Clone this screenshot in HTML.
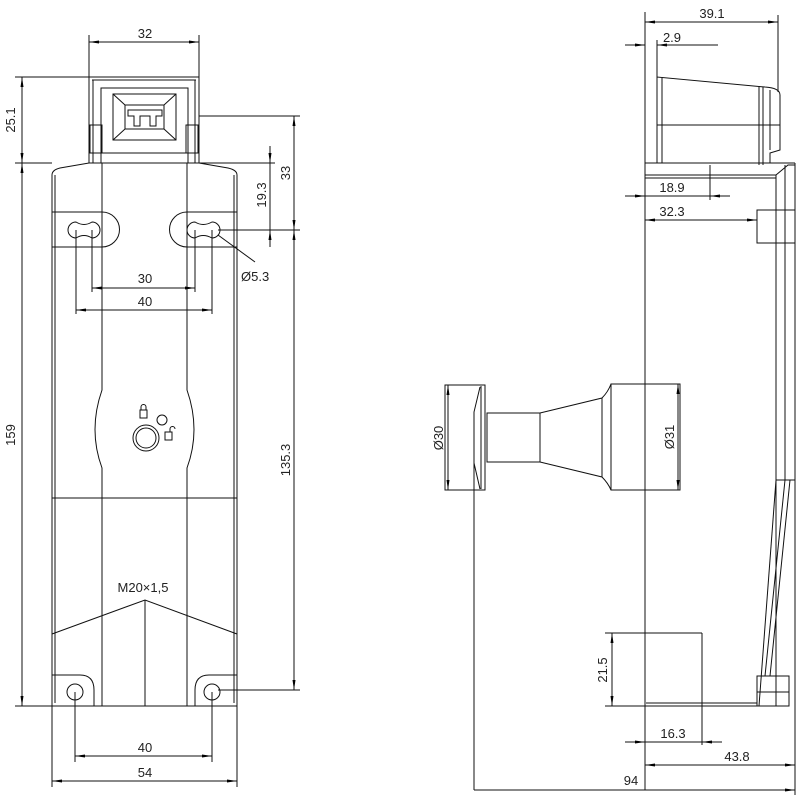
<!DOCTYPE html>
<html><head><meta charset="utf-8"><style>
html,body{margin:0;padding:0;background:#fff}
svg{display:block}
text{font-family:"Liberation Sans",sans-serif;font-size:13px;fill:#222}
</style></head><body>
<svg width="800" height="800" viewBox="0 0 800 800" xmlns="http://www.w3.org/2000/svg">
<defs>
<marker id="a" markerWidth="10" markerHeight="6" refX="10" refY="3" orient="auto-start-reverse" markerUnits="userSpaceOnUse"><path d="M0,1.5 L10,3 L0,4.5z" fill="#000"/></marker>
</defs>
<g stroke="#111" stroke-width="1" fill="none">
<!-- LEFT VIEW -->
<!-- head -->
<rect x="89" y="77" width="110" height="86"/>
<line x1="92" y1="80" x2="196" y2="80"/>
<line x1="93" y1="80" x2="93" y2="163"/><line x1="195" y1="80" x2="195" y2="163"/>
<rect x="101" y="88" width="87" height="65"/>
<line x1="101" y1="153" x2="101" y2="163"/><line x1="188" y1="153" x2="188" y2="163"/>
<rect x="113" y="94" width="63" height="46"/>
<line x1="113" y1="94" x2="125" y2="105"/><line x1="176" y1="94" x2="164" y2="105"/>
<line x1="113" y1="140" x2="125" y2="129"/><line x1="176" y1="140" x2="164" y2="129"/>
<rect x="125" y="105" width="39" height="24"/>
<path d="M128,110 H162 V116 H156 V126 H150 V116 H140 V126 H134 V116 H128Z"/>
<rect x="90" y="125" width="12" height="28"/><rect x="186" y="125" width="12" height="28"/>
<!-- body -->
<path d="M52,706 V175 Q52,170 60,168 L89,163 H199 L228,168 Q237,170 237,175 V706 Z"/>
<line x1="55" y1="175" x2="55" y2="703"/><line x1="234" y1="175" x2="234" y2="703"/>
<path d="M102,163 V390 Q88,430 102,468 V706"/>
<path d="M187,163 V390 Q201,430 187,468 V706"/>
<line x1="52" y1="498" x2="237" y2="498"/>
<!-- ear lugs -->
<line x1="52" y1="212" x2="102" y2="212"/><line x1="52" y1="247" x2="102" y2="247"/>
<path d="M102,212 A17.5,17.5 0 0 1 102,247"/>
<line x1="187" y1="212" x2="237" y2="212"/><line x1="187" y1="247" x2="237" y2="247"/>
<path d="M187,212 A17.5,17.5 0 0 0 187,247"/>
<path d="M76,222 A8,8 0 0 0 76,238 Q84,233 92,238 A8,8 0 0 0 92,222 Q84,227 76,222Z"/>
<path d="M195,222 A8,8 0 0 0 195,238 Q203,233 212,238 A8,8 0 0 0 212,222 Q203,227 195,222Z"/>
<!-- symbol -->
<circle cx="146" cy="438" r="13"/><circle cx="146" cy="438" r="10"/>
<circle cx="162" cy="420" r="5"/>
<rect x="140" y="410" width="7" height="8"/><path d="M141,410 V407 A2.5,2.5 0 0 1 146,407 V410"/>
<rect x="165" y="432" width="7" height="8"/><path d="M170,432 V429 A2.5,2.5 0 0 1 175,429"/>
<!-- chevron -->
<polyline points="52,634 145,600 237,634"/>
<line x1="145" y1="600" x2="145" y2="706"/>
<!-- bottom lugs -->
<path d="M52,675 H80 Q94,675 94,690 V706"/>
<path d="M237,675 H209 Q195,675 195,690 V706"/>
<circle cx="75" cy="692" r="8"/><circle cx="212" cy="692" r="8"/>
<!-- left dims -->
<line x1="89" y1="35" x2="89" y2="77"/><line x1="199" y1="35" x2="199" y2="77"/>
<line x1="89" y1="42" x2="199" y2="42" marker-start="url(#a)" marker-end="url(#a)"/>
<line x1="15" y1="77" x2="89" y2="77"/><line x1="15" y1="163" x2="52" y2="163"/><line x1="15" y1="706" x2="52" y2="706"/>
<line x1="22" y1="77" x2="22" y2="163" marker-start="url(#a)" marker-end="url(#a)"/>
<line x1="22" y1="163" x2="22" y2="706" marker-start="url(#a)" marker-end="url(#a)"/>
<line x1="199" y1="116" x2="300" y2="116"/><line x1="218" y1="230" x2="300" y2="230"/>
<line x1="199" y1="163" x2="275" y2="163"/>
<line x1="294" y1="116" x2="294" y2="230" marker-start="url(#a)" marker-end="url(#a)"/>
<line x1="294" y1="230" x2="294" y2="690" marker-start="url(#a)" marker-end="url(#a)"/>
<line x1="270" y1="146" x2="270" y2="163" marker-end="url(#a)"/>
<line x1="270" y1="247" x2="270" y2="230" marker-end="url(#a)"/>
<line x1="270" y1="163" x2="270" y2="230"/>
<line x1="218" y1="690" x2="300" y2="690"/>
<line x1="218" y1="235" x2="255" y2="262"/>
<line x1="92" y1="230" x2="92" y2="292"/><line x1="195" y1="230" x2="195" y2="292"/>
<line x1="92" y1="288" x2="195" y2="288" marker-start="url(#a)" marker-end="url(#a)"/>
<line x1="76" y1="230" x2="76" y2="314"/><line x1="212" y1="230" x2="212" y2="314"/>
<line x1="76" y1="310" x2="212" y2="310" marker-start="url(#a)" marker-end="url(#a)"/>
<line x1="75" y1="692" x2="75" y2="762"/><line x1="212" y1="692" x2="212" y2="762"/>
<line x1="75" y1="756" x2="212" y2="756" marker-start="url(#a)" marker-end="url(#a)"/>
<line x1="52" y1="706" x2="52" y2="787"/><line x1="237" y1="706" x2="237" y2="787"/>
<line x1="52" y1="781" x2="237" y2="781" marker-start="url(#a)" marker-end="url(#a)"/>

<!-- RIGHT VIEW -->
<line x1="645" y1="12" x2="645" y2="790"/>
<path d="M657,163 V77 L765,87 Q780,88 780,95 V150 L770,153 V163"/>
<line x1="662" y1="78" x2="662" y2="163"/>
<line x1="657" y1="125" x2="780" y2="125"/>
<line x1="759" y1="86" x2="759" y2="165"/><line x1="763" y1="87" x2="763" y2="165"/>
<line x1="770" y1="90" x2="770" y2="150"/>
<path d="M645,163 H776 L795,163"/>
<line x1="645" y1="175" x2="776" y2="175"/><line x1="645" y1="178" x2="776" y2="178"/>
<path d="M776,706 V175 L788,165 H795"/>
<line x1="785" y1="165" x2="785" y2="480"/><line x1="795" y1="163" x2="795" y2="680"/>
<line x1="776" y1="480" x2="795" y2="480"/>
<path d="M776,480 L759,706"/><path d="M785,480 L765,676"/><path d="M790,480 L770,676"/>
<rect x="757" y="210" width="38" height="33"/>
<rect x="757" y="676" width="32" height="30"/><line x1="757" y1="692" x2="789" y2="692"/>
<line x1="645" y1="706" x2="757" y2="706"/><line x1="646" y1="703" x2="757" y2="703"/>
<!-- actuator -->
<rect x="445" y="385" width="40" height="105"/>
<line x1="481" y1="386" x2="481" y2="489"/>
<path d="M480,387 L474,412 V463 L480,489"/>
<rect x="487" y="413" width="53" height="49"/>
<path d="M540,413 L602,398 Q608,392 611,384"/><path d="M540,462 L602,477 Q608,483 611,490"/>
<line x1="540" y1="413" x2="540" y2="462"/><line x1="602" y1="398" x2="602" y2="477"/>
<rect x="611" y="384" width="69" height="106"/>
<line x1="474" y1="463" x2="474" y2="790"/>
<line x1="448" y1="385" x2="448" y2="490" marker-start="url(#a)" marker-end="url(#a)"/>
<line x1="678" y1="384" x2="678" y2="490" marker-start="url(#a)" marker-end="url(#a)"/>
<!-- right dims -->
<line x1="778" y1="15" x2="778" y2="92"/><line x1="657" y1="40" x2="657" y2="77"/>
<line x1="645" y1="22" x2="778" y2="22" marker-start="url(#a)" marker-end="url(#a)"/>
<line x1="625" y1="45" x2="645" y2="45" marker-end="url(#a)"/>
<line x1="677" y1="45" x2="657" y2="45" marker-end="url(#a)"/><line x1="657" y1="45" x2="718" y2="45"/>
<line x1="710" y1="165" x2="710" y2="200"/>
<line x1="625" y1="196" x2="645" y2="196" marker-end="url(#a)"/>
<line x1="730" y1="196" x2="710" y2="196" marker-end="url(#a)"/><line x1="645" y1="196" x2="710" y2="196"/>
<line x1="645" y1="220" x2="757" y2="220" marker-start="url(#a)" marker-end="url(#a)"/>
<line x1="605" y1="633" x2="702" y2="633"/><line x1="605" y1="706" x2="645" y2="706"/>
<line x1="612" y1="633" x2="612" y2="706" marker-start="url(#a)" marker-end="url(#a)"/>
<line x1="702" y1="633" x2="702" y2="745"/>
<line x1="625" y1="742" x2="645" y2="742" marker-end="url(#a)"/>
<line x1="722" y1="742" x2="702" y2="742" marker-end="url(#a)"/><line x1="645" y1="742" x2="702" y2="742"/>
<line x1="645" y1="765" x2="795" y2="765" marker-start="url(#a)" marker-end="url(#a)"/>
<line x1="795" y1="680" x2="795" y2="795"/>
<line x1="474" y1="790" x2="795" y2="790" marker-end="url(#a)"/>
</g>
<g>
<text x="145" y="38" text-anchor="middle">32</text>
<text transform="translate(15,120) rotate(-90)" text-anchor="middle">25.1</text>
<text transform="translate(15,435) rotate(-90)" text-anchor="middle">159</text>
<text transform="translate(290,173) rotate(-90)" text-anchor="middle">33</text>
<text transform="translate(266,195) rotate(-90)" text-anchor="middle">19.3</text>
<text transform="translate(290,460) rotate(-90)" text-anchor="middle">135.3</text>
<text x="241" y="281">Ø5.3</text>
<text x="145" y="283" text-anchor="middle">30</text>
<text x="145" y="306" text-anchor="middle">40</text>
<text x="143" y="592" text-anchor="middle">M20×1,5</text>
<text x="145" y="752" text-anchor="middle">40</text>
<text x="145" y="777" text-anchor="middle">54</text>
<text x="712" y="18" text-anchor="middle">39.1</text>
<text x="672" y="42" text-anchor="middle">2.9</text>
<text x="672" y="192" text-anchor="middle">18.9</text>
<text x="672" y="216" text-anchor="middle">32.3</text>
<text transform="translate(443,438) rotate(-90)" text-anchor="middle">Ø30</text>
<text transform="translate(674,437) rotate(-90)" text-anchor="middle">Ø31</text>
<text transform="translate(607,670) rotate(-90)" text-anchor="middle">21.5</text>
<text x="673" y="738" text-anchor="middle">16.3</text>
<text x="737" y="761" text-anchor="middle">43.8</text>
<text x="631" y="785" text-anchor="middle">94</text>
</g>
</svg>
</body></html>
